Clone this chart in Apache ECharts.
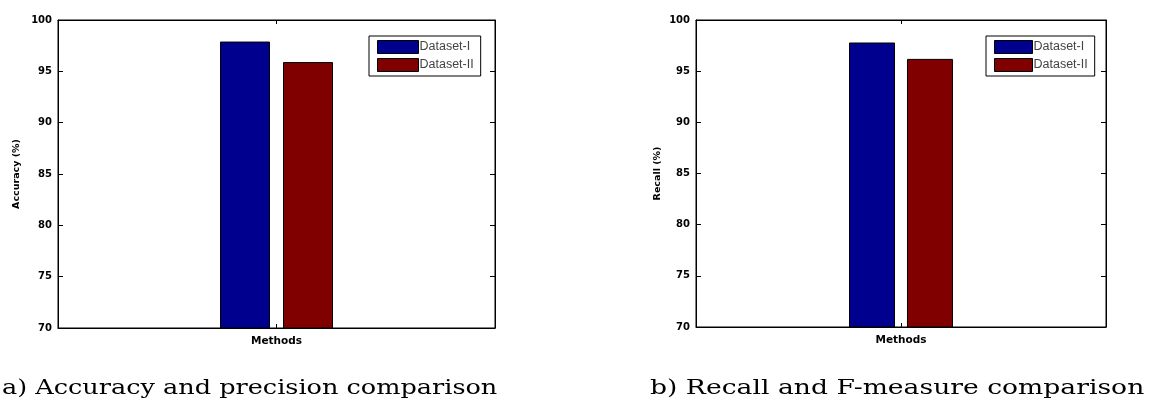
<!DOCTYPE html>
<html>
<head>
<meta charset="utf-8">
<script src="https://cdn.jsdelivr.net/npm/echarts@6/dist/echarts.min.js"></script>
<style>
  html, body { margin: 0; padding: 0; background: #fff; }
  #chart { width: 1160px; height: 410px; }
</style>
</head>
<body>
<div id="chart"></div>
<script>
// data
const categories = ['Methods'];
const seriesNames = ['Dataset-I', 'Dataset-II'];
const accuracyI = [97.9];
const accuracyII = [95.9];
const recallI = [97.8];
const recallII = [96.2];
const yTicks = [70, 75, 80, 85, 90, 95, 100];
const captions = ['a) Accuracy and precision comparison', 'b) Recall and F-measure comparison'];

const blue = '#00008f';
const red = '#800000';
const tickFont = { fontFamily: 'DejaVu Sans', fontWeight: 'bold', fontSize: 10, color: '#000' };

const chart = echarts.init(document.getElementById('chart'), null, { renderer: 'canvas' });

function yAxes(gridIndex, name, nameGap){
  const base = {
    type: 'value', gridIndex, min: yTicks[0], max: yTicks[yTicks.length - 1], interval: 5,
    splitLine: { show: false },
    axisLine: { show: true, lineStyle: { color: '#000', width: 1 } },
    axisTick: { show: true, inside: true, length: 5, lineStyle: { color: '#000' } }
  };
  return [
    Object.assign({}, base, {
      position: 'left', name, nameLocation: 'middle', nameGap, nameRotate: 90,
      nameTextStyle: Object.assign({}, tickFont, { fontSize: 9.5 }),
      axisLabel: Object.assign({ margin: 6 }, tickFont)
    }),
    Object.assign({}, base, { position: 'right', axisLabel: { show: false } })
  ];
}

function xAxes(gridIndex){
  const base = {
    type: 'category', gridIndex, data: categories,
    axisLine: { show: true, lineStyle: { color: '#000', width: 1 } },
    axisTick: { show: true, inside: true, length: 4, alignWithLabel: true, lineStyle: { color: '#000' } },
    axisLabel: { show: false }
  };
  return [
    Object.assign({}, base, {
      position: 'bottom', name: 'Methods', nameLocation: 'middle', nameGap: 8,
      nameTextStyle: Object.assign({}, tickFont, { fontSize: 10.5 })
    }),
    Object.assign({}, base, { position: 'top' })
  ];
}

function bar(name, data, color, axisIdx, width){
  return {
    type: 'bar', name, data, xAxisIndex: axisIdx, yAxisIndex: axisIdx,
    barWidth: width, barGap: '26%',
    itemStyle: { color, borderColor: '#000', borderWidth: 1 }
  };
}

const legendBase = {
  data: seriesNames, orient: 'vertical', itemWidth: 41, itemHeight: 13, itemGap: 4,
  padding: [4, 7, 4, 8], borderColor: '#000', borderWidth: 1, backgroundColor: '#fff',
  icon: 'rect', selectedMode: false,
  itemStyle: { borderColor: '#000', borderWidth: 1 },
  textStyle: { fontFamily: 'Liberation Sans', fontSize: 12.5, color: '#444', padding: [0, 0, 0, -4] }
};

function caption(text, x, sx){
  return {
    type: 'text', left: x, top: 378, scaleX: sx,
    style: { text, fontFamily: 'DejaVu Serif', fontSize: 21, fill: '#000' }
  };
}

const option = {
  backgroundColor: '#fff',
  animation: false,
  graphic: [
    caption(captions[0], 2, 1.216),
    caption(captions[1], 650, 1.267)
  ],
  legend: [
    Object.assign({}, legendBase, { left: 369, top: 36 }),
    Object.assign({}, legendBase, { left: 986, top: 36, itemWidth: 38 })
  ],
  grid: [
    { left: 58, top: 20, width: 437, height: 308, show: true, borderColor: '#000', borderWidth: 1 },
    { left: 696, top: 20, width: 410, height: 307, show: true, borderColor: '#000', borderWidth: 1 }
  ],
  xAxis: [...xAxes(0), ...xAxes(1)],
  yAxis: [...yAxes(0, 'Accuracy (%)', 36), ...yAxes(1, 'Recall (%)', 33)],
  series: [
    bar('Dataset-I', accuracyI, blue, 0, 50),
    bar('Dataset-II', accuracyII, red, 0, 50),
    bar('Dataset-I', recallI, blue, 2, 46),
    bar('Dataset-II', recallII, red, 2, 46)
  ]
};

chart.setOption(option);
</script>
</body>
</html>
